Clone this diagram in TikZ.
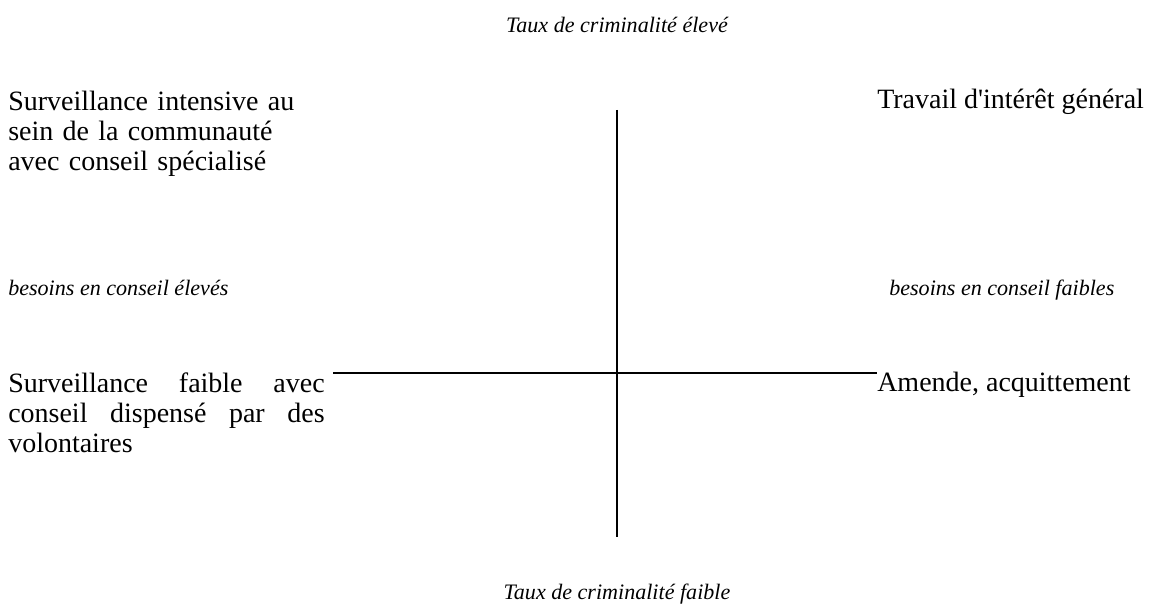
\documentclass[tikz,border=0pt]{standalone}
\usepackage{fontspec}
\setmainfont{Liberation Serif}[
	Ligatures=TeXOff,
	UprightFont=Liberation Serif,
	ItalicFont=Liberation Serif Italic,
	BoldFont=Liberation Serif Bold]
\usetikzlibrary{positioning}
\tikzset{
quadtext/.style={
	anchor=north west,
	inner sep=0pt,
	align=left,
	font=\fontsize{19.9}{21.3}\selectfont
},
quadline/.style={
	anchor=base west,
	inner sep=0pt,
	font=\fontsize{19.9}{21.3}\selectfont
},
axislabel/.style={
	inner sep=0pt,
	font=\fontsize{15.7}{18}\selectfont\itshape
},
axis/.style={
	draw=black,
	line width=1.4pt
}
}

\begin{document}
\begin{tikzpicture}[x=0.025cm, y=-0.025cm]
\useasboundingbox (0,0) rectangle (1159,615);
% ===== Axes =====
\coordinate (vtop)   at (617, 110);
\coordinate (vbot)   at (617, 537);
\coordinate (hleft)  at (333, 373);
\coordinate (hright) at (877, 373);
\draw [axis] (vtop)  -- (vbot);
\draw [axis] (hleft) -- (hright);
% ===== Axis labels =====
\node (crimehigh) [axislabel, anchor=base]      at (617, 33)  {Taux de criminalité élevé};
\node (crimelow)  [axislabel, anchor=base]      at (617, 600) {Taux de criminalité faible};
\node (needhigh)  [axislabel, anchor=base west] at (8, 296)   {besoins en conseil élevés};
\node (needlow)   [axislabel, anchor=base west] at (889, 296) {besoins en conseil faibles};
% ===== Quadrants =====
\node (intensive) [quadtext, text width=225pt] at (8, 91)
      {Surveillance intensive au\\sein de la communauté\\avec conseil spécialisé};
\node (tig)       [quadline] at (877, 109) {Travail d'intérêt général};
\node (volunteer) [quadtext, text width=225pt, align=justify] at (8, 373)
      {Surveillance faible avec conseil dispensé par des volontaires};
\node (fine)      [quadline] at (877, 392) {Amende, acquittement};
\end{tikzpicture}
\end{document}
